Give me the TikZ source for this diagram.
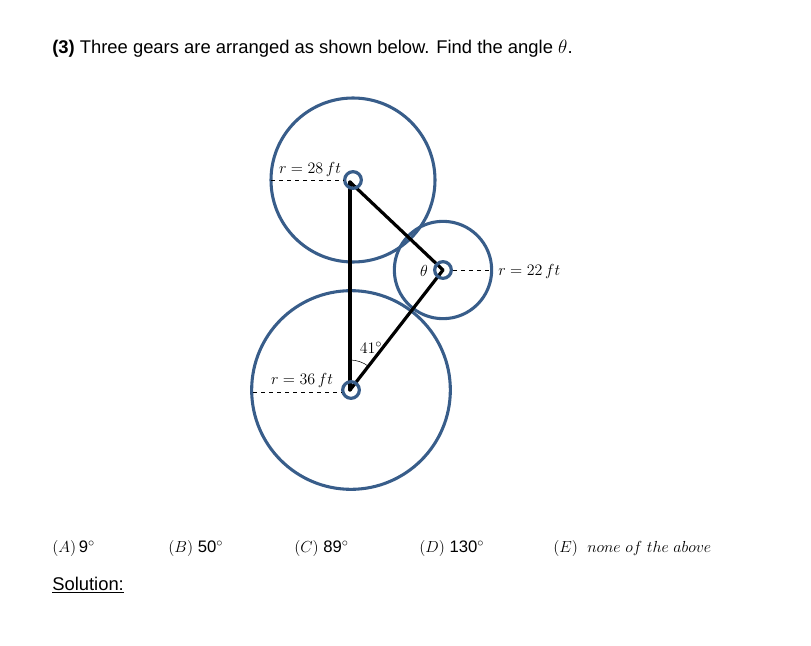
\documentclass[tikz,border=0pt]{standalone}
\usepackage{amsmath,amssymb}
\usepackage{fontspec}
\setmainfont{Liberation Sans}
\usepackage{tikz}
\usepackage{xcolor}
\usetikzlibrary{positioning,calc}
\definecolor{gearblue}{RGB}{56,93,138}
\newcommand{\dg}{^{\circ}}

\tikzset{
  gear/.style={draw=gearblue, line width=2.3pt},
  hub/.style={circle, draw=gearblue, line width=2.4pt, minimum size=12.5pt, inner sep=0pt},
  link/.style={line width=2.4pt, line cap=round},
  radius line/.style={dashed, thin},
  label/.style={font=\fontsize{12.5}{15}\selectfont, inner sep=0pt},
  choice/.style={anchor=base west, inner sep=0pt, font=\fontsize{12.5}{15}\selectfont}
}

\begin{document}
\begin{tikzpicture}[x=0.75pt, y=-0.75pt]
            \useasboundingbox (0,0) rectangle (811,646);

            \node[anchor=base west, inner sep=0pt, font=\fontsize{13.8}{16}\selectfont] (title) at (52,53)
                {\textbf{(3)} Three gears are arranged as shown below. Find the angle $\theta$.};

            % gear centres
            \coordinate (top) at (353,180);
            \coordinate (mid) at (443,270);
            \coordinate (bot) at (351,390);
            \coordinate (vtop) at (350,182);
            \coordinate (vbot) at (350,390);

            \draw[gear] (top) circle (61.5pt);
            \draw[gear] (mid) circle (36.5pt);
            \draw[gear] (bot) circle (74.5pt);

            \draw[link] (vtop) -- (vbot);
            \draw[link] (vtop) -- (mid);
            \draw[link] (mid) -- (vbot);

            \node[hub] (htop) at (top) {};
            \node[hub] (hmid) at (mid) {};
            \node[hub] (hbot) at (bot) {};

            \coordinate (etop) at (271,180);
            \coordinate (emid) at (492,270);
            \coordinate (ebot) at (253,392);
            \draw[radius line] (etop) -- (htop.west);
            \draw[radius line] (hmid.east) -- (emid);
            \draw[radius line] (ebot) -- (hbot.west |- ebot);

            \node[label] (rtop) at (310,169) {$r=28\,ft$};
            \node[label, anchor=west] (rmid) at (498,271) {$r=22\,ft$};
            \node[label] (rbot) at (302,380) {$r=36\,ft$};

            \node[label] (theta) at (424,271) {$\theta$};
            \node[label] (ang) at (371,348) {$41\dg$};
            \draw[thin] ($(vbot)+(0,-30)$) arc[start angle=90, end angle=52, radius=22.5pt];

            \node[choice] (optA) at (52,552) {$(A)$\,9$\dg$};
            \node[choice] (optB) at (168,552) {$(B)$\ 50$\dg$};
            \node[choice] (optC) at (294,552) {$(C)$\ 89$\dg$};
            \node[choice] (optD) at (419,552) {$(D)$\ 130$\dg$};
            \node[choice] (optE) at (553,552) {$(E)$\ \ $none\ of\ the\ above$};

            \node[anchor=base west, inner sep=0pt, font=\fontsize{13.8}{16}\selectfont] (sol) at (52,590) {\underline{Solution:}};
        \end{tikzpicture}
\end{document}
